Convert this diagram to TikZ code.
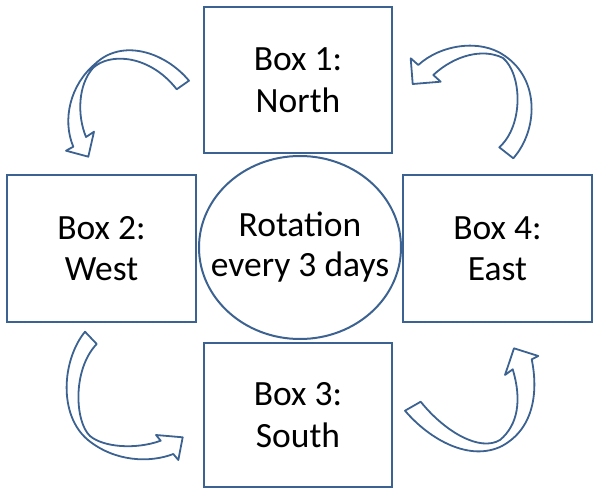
\documentclass[tikz,border=0pt]{standalone}
\usepackage{fontspec}
\setmainfont{Carlito}
\usetikzlibrary{shapes.geometric}
\definecolor{edgeblue}{RGB}{60,98,145}
\begin{document}
\begin{tikzpicture}[x=1pt,y=-1pt,
  boxlabel/.style={font=\fontsize{35.5}{41.5}\selectfont, align=center},
  box/.style={boxlabel, draw=edgeblue, line width=2.4pt, rectangle, inner sep=0pt},
  hub/.style={boxlabel, draw=edgeblue, line width=2pt, ellipse, inner xsep=-45pt, inner ysep=-25pt,
    minimum width=202pt, minimum height=183pt, font=\fontsize{35.5}{40}\selectfont},
  bendarrow/.style={draw=edgeblue, line width=1.8pt, line join=round}]
\useasboundingbox (0,0) rectangle (597,492);

\node[box, minimum width=188pt, minimum height=146pt] (north) at (298,80) {Box 1:\\North};
\node[box, minimum width=189pt, minimum height=147pt] (west) at (101.5,248.5) {Box 2:\\West};
\node[box, minimum width=189pt, minimum height=147pt] (east) at (497.5,248.5) {Box 4:\\East};
\node[box, minimum width=188pt, minimum height=144pt] (south) at (298,415) {Box 3:\\South};
\node[hub] (hub) at (300,247.5) {Rotation\\every 3 days};

% top-left: North -> West
\draw[bendarrow] (189,80.7) .. controls (165,52) and (122,38) .. (95,64)
  .. controls (70,85) and (62,120) .. (73.3,146.7)
  -- (66,150.7) -- (88.3,156.7) -- (94,131.7) -- (86,137)
  .. controls (77,115) and (78,85) .. (93,68)
  .. controls (110,52) and (150,55) .. (176.7,89.3)
  -- cycle;

% top-right: East -> North
\draw[bendarrow] (513.3,158.3) .. controls (538,130) and (540,80) .. (505,56)
  .. controls (480,38) and (440,45) .. (418.3,65)
  -- (410.7,58.3) -- (412.7,84) -- (440.7,81.7) -- (433.3,75)
  .. controls (455,55) and (483,48) .. (503,58)
  .. controls (522,74) and (524,125) .. (499.3,147.3)
  -- cycle;

% bottom-left: West -> South
\draw[bendarrow] (85,331.7) .. controls (62,360) and (58,415) .. (88,440)
  .. controls (115,462) and (150,463) .. (173.3,454)
  -- (178.3,460) -- (182.7,437.3) -- (156,435) -- (160.7,440.7)
  .. controls (135,450) and (103,447) .. (90,436)
  .. controls (75,422) and (72,370) .. (96.7,344)
  -- cycle;

% bottom-right: South -> East
\draw[bendarrow] (405,410.7) .. controls (430,440) and (470,462) .. (502,446)
  .. controls (535,428) and (538,390) .. (531.7,359.3)
  -- (538.3,356) -- (514,348.3) -- (505,375) -- (512.7,369.3)
  .. controls (522,400) and (518,425) .. (500,440)
  .. controls (480,452) and (445,432) .. (420.7,401.7)
  -- cycle;
\end{tikzpicture}
\end{document}
